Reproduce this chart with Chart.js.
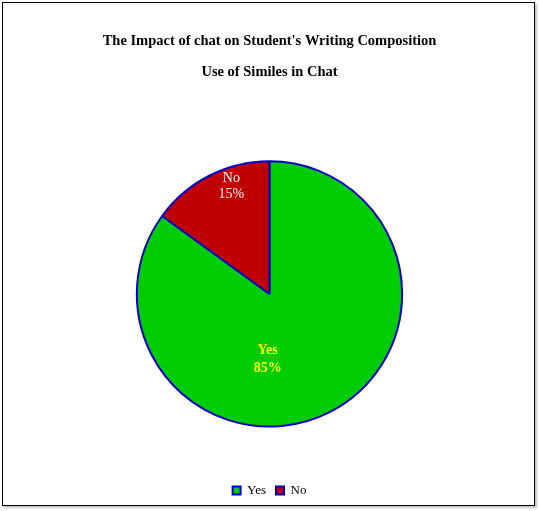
<!DOCTYPE html>
<html>
<head>
<meta charset="utf-8">
<script src="https://cdn.jsdelivr.net/npm/chart.js@4.4.1/dist/chart.umd.min.js"></script>
<style>
  html, body { margin: 0; padding: 0; background: #fff; }
  #wrap { position: relative; width: 539px; height: 511px; }
  #frame {
    position: absolute; left: 2px; top: 2px; width: 531px; height: 502px;
    border: 1px solid #000; box-shadow: 2px 2px 2px rgba(0,0,0,0.25);
    pointer-events: none;
  }
  canvas { position: absolute; left: 0; top: 0; }
</style>
</head>
<body>
<div id="wrap">
  <canvas id="pieChart" width="539" height="511"></canvas>
  <div id="frame"></div>
</div>
<script>
// chart data
const categories = ['Yes', 'No'];
const shares = [85, 15];
const sliceColors = ['#00cc00', '#c00000'];
const titleText = "The Impact of chat on Student's Writing Composition";
const subtitleText = 'Use of Similes in Chat';

// draws "Yes / 85%" inside each slice, positioned off the arc itself
const sliceLabels = {
    id: 'sliceLabels',
    afterDatasetsDraw(chart, args, opts) {
        const ctx = chart.ctx;
        const data = chart.data.datasets[0].data;
        chart.getDatasetMeta(0).data.forEach(function(arc, i) {
            const p = arc.getProps(['x', 'y', 'startAngle', 'endAngle', 'outerRadius'], true);
            const ang = (p.startAngle + p.endAngle) / 2 + opts.shift[i];
            const r = p.outerRadius * opts.dist[i];
            const x = p.x + Math.cos(ang) * r;
            const y = p.y + Math.sin(ang) * r;
            ctx.save();
            ctx.fillStyle = opts.colors[i];
            ctx.font = opts.fonts[i];
            ctx.textAlign = 'center';
            ctx.textBaseline = 'middle';
            ctx.fillText(chart.data.labels[i], x, y - opts.gap[i]);
            ctx.fillText(data[i] + '%', x, y + opts.gap[i]);
            ctx.restore();
        });
    }
};

document.addEventListener('DOMContentLoaded', function() {
    const ctx = document.getElementById('pieChart').getContext('2d');
    new Chart(ctx, {
        type: 'pie',
        data: {
            labels: categories,
            datasets: [{
                data: shares,
                backgroundColor: sliceColors,
                borderColor: '#0000cc',
                borderWidth: 2
            }]
        },
        options: {
            responsive: false,
            animation: false,
            layout: { padding: { left: 0, right: 0, top: 0, bottom: 4 } },
            plugins: {
                title: {
                    display: true,
                    text: titleText,
                    color: '#000',
                    font: { family: 'Liberation Serif', size: 14.5, weight: 'bold' },
                    padding: { top: 32.3, bottom: 0 }
                },
                subtitle: {
                    display: true,
                    text: subtitleText,
                    color: '#000',
                    font: { family: 'Liberation Serif', size: 14.5, weight: 'bold' },
                    padding: { top: 13.6, bottom: 79.6 }
                },
                legend: {
                    display: true,
                    position: 'bottom',
                    title: {
                        // empty title just to leave room under the pie
                        display: true,
                        text: ' ',
                        font: { size: 12 },
                        padding: { top: 32, bottom: 0 }
                    },
                    labels: {
                        boxWidth: 8,
                        boxHeight: 8,
                        padding: 10,
                        color: '#000',
                        font: { family: 'Liberation Serif', size: 13 }
                    }
                },
                tooltip: { enabled: false },
                sliceLabels: {
                    shift: [0.5, 0.13],
                    dist: [0.49, 0.86],
                    gap: [9, 8],
                    colors: ['#ffff00', '#ffffff'],
                    fonts: ['bold 14px "Liberation Serif"', '14px "Liberation Serif"']
                }
            }
        },
        plugins: [sliceLabels]
    });
});
</script>
</body>
</html>
